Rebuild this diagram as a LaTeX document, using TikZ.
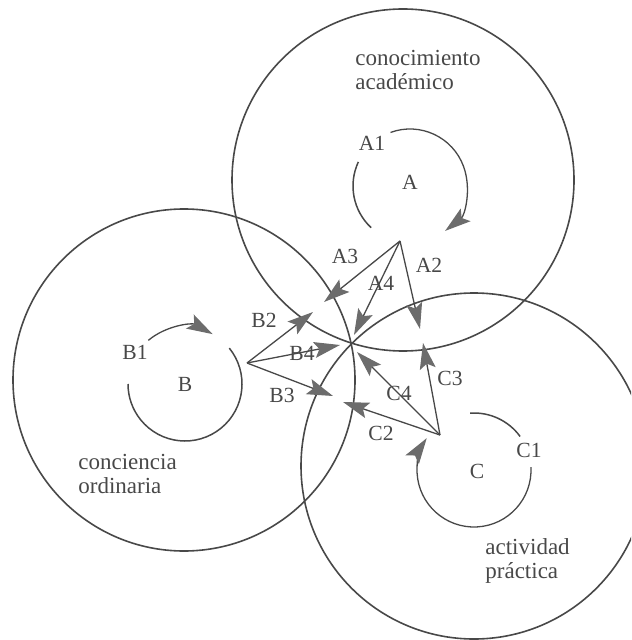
\documentclass[tikz,border=0pt]{standalone}
\usepackage{fontspec}
\setmainfont{Liberation Serif}
\usetikzlibrary{arrows.meta}
\definecolor{inkgray}{RGB}{72,72,72}
\definecolor{headgray}{RGB}{108,108,108}
\tikzset{
  region/.style={draw=inkgray,line width=0.8pt},
  cycle/.style={draw=inkgray,line width=0.75pt},
  flowarrow/.style={-{Stealth[length=13pt,width=8pt,inset=2.5pt,color=headgray]},
    draw=inkgray,line width=0.65pt},
  caption/.style={text=inkgray,align=left,anchor=north west,inner sep=0pt,
    font=\fontsize{11.5}{12}\selectfont},
  tag/.style={text=inkgray,inner sep=1pt,font=\fontsize{10.8}{12}\selectfont},
}

\begin{document}
\begin{tikzpicture}[x=0.5pt,y=0.5pt]
        \useasboundingbox (0,0) rectangle (631,-640);
        \clip (0,0) rectangle (631,-640);
        % the three spheres
        \coordinate (ctrA) at (403,-180);
        \coordinate (ctrB) at (184,-380);
        \coordinate (ctrC) at (474,-466);
        \draw[region] (ctrA) circle[radius=171];
        \draw[region] (ctrB) circle[radius=171];
        \draw[region] (ctrC) circle[radius=173];
        \node[caption] (acad) at (355,-50) {conocimiento\\académico};
        \node[caption] (ordin) at (78,-454) {conciencia\\ordinaria};
        \node[caption] (pract) at (485,-538) {actividad\\práctica};
        % inner cycles
        \node[tag] (loopA) at (410,-182) {A};
        \node[tag] (loopB) at (185,-384) {B};
        \node[tag] (loopC) at (477,-471) {C};
        \node[tag] (tagA1) at (372,-143) {A1};
        \node[tag] (tagB1) at (135,-352) {B1};
        \node[tag] (tagC1) at (529,-450) {C1};
        \draw[cycle] ([shift={(155:57)}]410,-186) arc[start angle=155,end angle=227,radius=57];
        \draw[cycle,flowarrow] ([shift={(110:57)}]410,-186) arc[start angle=110,end angle=-52,radius=57];
        \draw[cycle,flowarrow] ([shift={(130:57)}]185,-384) arc[start angle=130,end angle=61,radius=57];
        \draw[cycle] ([shift={(39:57)}]185,-384) arc[start angle=39,end angle=-180,radius=57];
        \draw[cycle] ([shift={(94:57)}]474,-470) arc[start angle=94,end angle=36,radius=57];
        \draw[cycle,flowarrow] ([shift={(3:57)}]474,-470) arc[start angle=3,end angle=-214,radius=57];
        % star of transfers
        \coordinate (apexA) at (400,-241);
        \coordinate (apexB) at (247,-363);
        \coordinate (apexC) at (440,-435);
        \coordinate (endA2) at (420,-329);
        \coordinate (endA3) at (324,-302);
        \coordinate (endA4) at (354,-335);
        \coordinate (endB2) at (313,-312);
        \coordinate (endB3) at (333,-396);
        \coordinate (endB4) at (340,-345);
        \coordinate (endC2) at (343,-402);
        \coordinate (endC3) at (423,-343);
        \coordinate (endC4) at (357,-352);
        \foreach \src/\k in {A/2,A/3,A/4,B/2,B/3,B/4,C/2,C/3,C/4}
          \draw[flowarrow] (apex\src) -- (end\src\k);
        \node[tag] (tagA2) at (429,-265) {A2};
        \node[tag] (tagA3) at (345,-256) {A3};
        \node[tag] (tagA4) at (381,-283) {A4};
        \node[tag] (tagB2) at (264,-320) {B2};
        \node[tag] (tagB3) at (282,-395) {B3};
        \node[tag] (tagB4) at (302,-353) {B4};
        \node[tag] (tagC2) at (381,-433) {C2};
        \node[tag] (tagC3) at (450,-378) {C3};
        \node[tag] (tagC4) at (399,-393) {C4};
      \end{tikzpicture}
\end{document}
